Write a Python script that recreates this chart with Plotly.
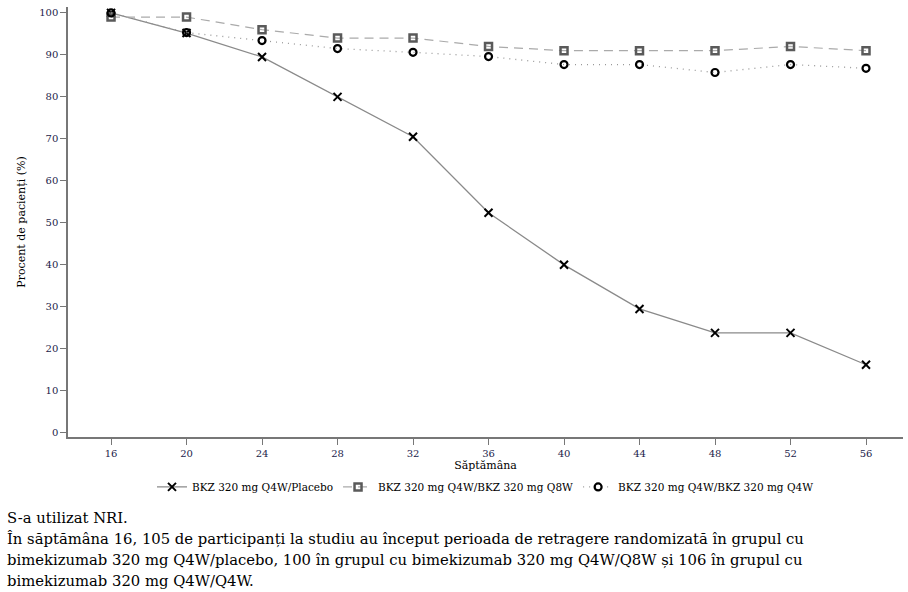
import plotly.graph_objects as go

weeks = [16, 20, 24, 28, 32, 36, 40, 44, 48, 52, 56]
placebo = [100, 95.2, 89.5, 80.0, 70.5, 52.4, 40.0, 29.5, 23.8, 23.8, 16.2]
q8w = [99.0, 99.0, 96.0, 94.0, 94.0, 92.0, 91.0, 91.0, 91.0, 92.0, 91.0]
q4w = [100, 95.3, 93.4, 91.5, 90.6, 89.6, 87.7, 87.7, 85.8, 87.7, 86.8]
y_ticks = [0, 10, 20, 30, 40, 50, 60, 70, 80, 90, 100]

names = ["BKZ 320 mg Q4W/Placebo", "BKZ 320 mg Q4W/BKZ 320 mg Q8W",
         "BKZ 320 mg Q4W/BKZ 320 mg Q4W"]

serif = "DejaVu Serif"

fig = go.Figure()
fig.add_trace(go.Scatter(
    x=weeks, y=placebo, name=names[0], mode="lines+markers",
    line=dict(color="#8a8a8a", width=1.3, dash="solid"),
    marker=dict(symbol="x-thin-open", size=8, color="black", line=dict(color="black", width=2)),
))
fig.add_trace(go.Scatter(
    x=weeks, y=q8w, name=names[1], mode="lines+markers",
    line=dict(color="#aaaaaa", width=1.2, dash="9px,6px"),
    marker=dict(symbol="square-open", size=7, color="#5a5a5a", line=dict(color="#5a5a5a", width=2.5)),
))
fig.add_trace(go.Scatter(
    x=weeks, y=q4w, name=names[2], mode="lines+markers",
    line=dict(color="#999999", width=1.3, dash="1px,5px"),
    marker=dict(symbol="circle-open", size=7, color="black", line=dict(color="black", width=2.2)),
))

fig.update_layout(
    width=908, height=592,
    margin=dict(l=68, r=5, t=7, b=155),
    paper_bgcolor="white", plot_bgcolor="white",
    font=dict(family=serif, size=11, color="black"),
    showlegend=True,
    legend=dict(orientation="h", x=0.5, xanchor="center", y=-0.116, yanchor="middle",
                font=dict(family=serif, size=10.5, color="black"),
                itemwidth=30, tracegroupgap=0),
    xaxis=dict(range=[13.72, 57.96], tickvals=weeks, ticktext=[str(w) for w in weeks],
               showgrid=False, zeroline=False, showline=True, linecolor="#777777", linewidth=1.5,
               ticks="outside", ticklen=6, tickcolor="#777777",
               tickfont=dict(family=serif, size=10, color="#1c1c4a"),
               title=dict(text="Săptămâna", font=dict(family=serif, size=11, color="black"), standoff=2)),
    yaxis=dict(range=[-1, 101.4], tickvals=y_ticks, ticktext=[str(t) for t in y_ticks],
               showgrid=False, zeroline=False, showline=True, linecolor="#777777", linewidth=1.5,
               ticks="outside", ticklen=6, tickcolor="#777777",
               tickfont=dict(family=serif, size=10, color="#1c1c4a"),
               title=dict(text="Procent de pacienți (%)", font=dict(family=serif, size=11, color="black"), standoff=11)),
)

notes = [
    "S-a utilizat NRI.",
    "În săptămâna 16, 105 de participanți la studiu au început perioada de retragere randomizată în grupul cu",
    "bimekizumab 320 mg Q4W/placebo, 100 în grupul cu bimekizumab 320 mg Q4W/Q8W și 106 în grupul cu",
    "bimekizumab 320 mg Q4W/Q4W.",
]
note_y = [517, 539, 560, 580]
for txt, py in zip(notes, note_y):
    fig.add_annotation(text=txt, xref="paper", yref="paper",
                       x=-63 / 840, y=(437 - py) / 430, xanchor="left", yanchor="middle",
                       showarrow=False, align="left",
                       font=dict(family=serif, size=14.8, color="black"))

fig.write_html("out.html")
